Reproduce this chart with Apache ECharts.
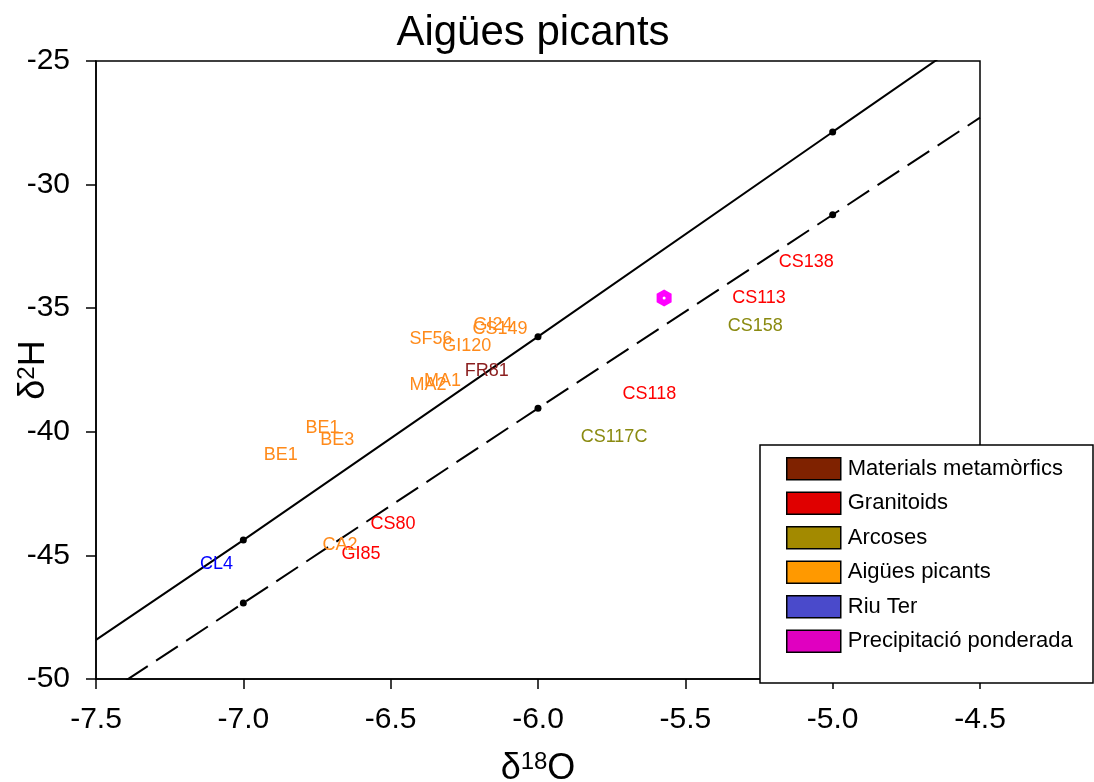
<!DOCTYPE html>
<html>
<head>
<meta charset="utf-8">
<script src="https://cdn.jsdelivr.net/npm/echarts@6/dist/echarts.min.js"></script>
<style>
  html, body { margin: 0; padding: 0; background: #fff; }
  #chart { width: 1094px; height: 782px; }
</style>
</head>
<body>
<div id="chart"></div>
<script>
const FONT = '"Liberation Sans", Arial, sans-serif';

// Groups shown in the legend
const groupNames = ['Materials metamòrfics', 'Granitoids', 'Arcoses', 'Aigües picants', 'Riu Ter', 'Precipitació ponderada'];
const swatchColors = ['#7f2200', '#e00000', '#a38a00', '#ff9900', '#4a4acb', '#e000c0'];
const labelColors = ['#8b1e1e', '#ff0000', '#8a8a10', '#ff8a1a', '#0000ff', '#ff00ff'];

// Samples (δ18O, δ2H) per group
const metaNames = ['FR81'];
const metaO = [-6.174];
const metaH = [-37.54];

const graniteNames = ['CS138', 'CS113', 'CS118', 'CS80', 'GI85'];
const graniteO = [-5.090, -5.250, -5.622, -6.492, -6.601];
const graniteH = [-33.14, -34.60, -38.48, -43.73, -44.94];

const arcoseNames = ['CS158', 'CS117C'];
const arcoseO = [-5.263, -5.742];
const arcoseH = [-35.71, -40.20];

const springNames = ['GI24', 'CS149', 'SF56', 'GI120', 'MA1', 'MA2', 'BE1', 'BE3', 'BE1', 'CA2'];
const springO = [-6.153, -6.129, -6.363, -6.242, -6.324, -6.373, -6.731, -6.681, -6.873, -6.672];
const springH = [-35.68, -35.85, -36.25, -36.52, -37.95, -38.11, -39.83, -40.33, -40.94, -44.60];

const riverNames = ['CL4'];
const riverO = [-7.091];
const riverH = [-45.34];

const precipO = [-5.572];
const precipH = [-34.59];

// Meteoric water lines (solid and dashed)
const solidO = [-7.5, -7.0, -6.0, -5.0, -4.5];
const solidH = [-48.42, -44.38, -36.15, -27.87, -23.74];
const dashedO = [-7.5, -7.0, -6.0, -5.0, -4.5];
const dashedH = [-50.86, -46.93, -39.05, -31.22, -27.29];

// Axis ticks
const xTicks = [-7.5, -7.0, -6.5, -6.0, -5.5, -5.0, -4.5];
const yTicks = [-50, -45, -40, -35, -30, -25];

const zip = (a, b) => a.map((v, i) => [v, b[i]]);
const labelled = (names, xs, ys) => names.map((n, i) => ({ name: n, value: [xs[i], ys[i]] }));

function labelSeries(idx, names, xs, ys) {
  return {
    name: groupNames[idx],
    type: 'scatter',
    symbolSize: 0,
    itemStyle: { color: swatchColors[idx], opacity: 1 },
    label: {
      show: true,
      position: 'inside',
      formatter: p => p.name,
      color: labelColors[idx],
      fontFamily: FONT,
      fontSize: 18
    },
    emphasis: { disabled: true },
    z: 3,
    data: labelled(names, xs, ys)
  };
}

const hexagon = 'path://M0,-10 L8.66,-5 L8.66,5 L0,10 L-8.66,5 L-8.66,-5 Z';

const chart = echarts.init(document.getElementById('chart'), null, { renderer: 'canvas' });

chart.setOption({
  animation: false,
  backgroundColor: '#fff',
  title: {
    text: 'Aigües picants',
    left: 528,
    top: 7,
    textAlign: 'center',
    textStyle: { fontFamily: FONT, fontSize: 42, fontWeight: 'normal', color: '#000' }
  },
  grid: {
    left: 96, right: 114, top: 61, bottom: 103,
    containLabel: false,
    outerBoundsMode: 'none',
    show: true, borderColor: '#000', borderWidth: 1.5, backgroundColor: 'transparent'
  },
  xAxis: {
    type: 'value',
    min: xTicks[0], max: xTicks[xTicks.length - 1], interval: 0.5,
    axisLine: { show: true, onZero: false, lineStyle: { color: '#000', width: 1.5 } },
    axisTick: { show: true, inside: false, length: 10, lineStyle: { color: '#000', width: 1.5 } },
    splitLine: { show: false },
    axisLabel: {
      margin: 26, color: '#000', fontFamily: FONT, fontSize: 30,
      formatter: v => v.toFixed(1)
    },
    name: '{d|δ}{s|18}{o|O}',
    nameLocation: 'middle',
    nameGap: 71,
    nameMoveOverlap: false,
    nameTextStyle: {
      rich: {
        d: { fontFamily: FONT, fontSize: 36, color: '#000' },
        s: { fontFamily: FONT, fontSize: 24, color: '#000', verticalAlign: 'top', padding: [0, 0, 14, 0] },
        o: { fontFamily: FONT, fontSize: 36, color: '#000' }
      }
    }
  },
  yAxis: {
    type: 'value',
    min: yTicks[0], max: yTicks[yTicks.length - 1], interval: 5,
    axisLine: { show: true, onZero: false, lineStyle: { color: '#000', width: 1.5 } },
    axisTick: { show: true, inside: false, length: 10, lineStyle: { color: '#000', width: 1.5 } },
    splitLine: { show: false },
    axisLabel: { margin: 26, color: '#000', fontFamily: FONT, fontSize: 30 },
    name: '{d|δ}{s|2}{h|H}',
    nameLocation: 'middle',
    nameRotate: 90,
    nameGap: 43,
    nameMoveOverlap: false,
    nameTextStyle: {
      rich: {
        d: { fontFamily: FONT, fontSize: 36, color: '#000' },
        s: { fontFamily: FONT, fontSize: 24, color: '#000', verticalAlign: 'top', padding: [0, 0, 14, 0] },
        h: { fontFamily: FONT, fontSize: 36, color: '#000' }
      }
    }
  },
  legend: {
    orient: 'vertical',
    left: 786, top: 457,
    padding: 0,
    itemWidth: 54, itemHeight: 22, itemGap: 11,
    z: 12,
    selectedMode: false,
    textStyle: { fontFamily: FONT, fontSize: 22, color: '#000', padding: [0, 0, 0, 2] },
    itemStyle: { borderColor: '#000', borderWidth: 1.5, opacity: 1 },
    data: groupNames.map((n, i) => ({ name: n, icon: 'rect', itemStyle: { color: swatchColors[i], opacity: 1 } }))
  },
  graphic: {
    elements: [{
      type: 'rect',
      z: 11,
      shape: { x: 760, y: 445, width: 333, height: 238 },
      style: { fill: '#fff', stroke: '#000', lineWidth: 1.5 }
    }]
  },
  series: [
    {
      name: 'solid-line',
      type: 'line',
      data: zip(solidO, solidH),
      clip: true,
      symbol: 'circle',
      symbolSize: (v, p) => (p.dataIndex > 0 && p.dataIndex < solidO.length - 1 ? 7 : 0),
      showAllSymbol: true,
      itemStyle: { color: '#000', opacity: 1 },
      lineStyle: { color: '#000', width: 2 },
      emphasis: { disabled: true },
      z: 2
    },
    {
      name: 'dashed-line',
      type: 'line',
      data: zip(dashedO, dashedH),
      clip: true,
      symbol: 'circle',
      symbolSize: (v, p) => (p.dataIndex > 0 && p.dataIndex < dashedO.length - 1 ? 7 : 0),
      showAllSymbol: true,
      itemStyle: { color: '#000', opacity: 1 },
      lineStyle: { color: '#000', width: 2, type: [26, 10] },
      emphasis: { disabled: true },
      z: 2
    },
    labelSeries(0, metaNames, metaO, metaH),
    labelSeries(1, graniteNames, graniteO, graniteH),
    labelSeries(2, arcoseNames, arcoseO, arcoseH),
    labelSeries(3, springNames, springO, springH),
    labelSeries(4, riverNames, riverO, riverH),
    {
      name: groupNames[5],
      type: 'scatter',
      symbol: hexagon,
      symbolSize: [15, 17],
      itemStyle: { color: '#ff00ff', opacity: 1 },
      emphasis: { disabled: true },
      z: 3,
      data: zip(precipO, precipH)
    },
    {
      name: 'precip-centre',
      type: 'scatter',
      symbol: 'circle',
      symbolSize: 3,
      itemStyle: { color: '#fff', opacity: 1 },
      emphasis: { disabled: true },
      z: 4,
      data: zip(precipO, precipH)
    }
  ]
});
</script>
</body>
</html>
